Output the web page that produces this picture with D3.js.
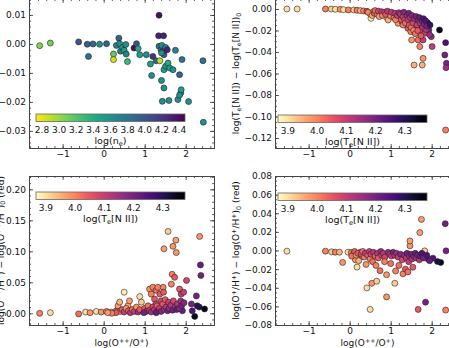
<!DOCTYPE html>
<html><head><meta charset="utf-8">
<script src="https://cdn.jsdelivr.net/npm/d3@7"></script>
<style>
body{margin:0;background:#fff}
svg{display:block;font-family:"DejaVu Sans",sans-serif}
</style></head><body>
<svg id="chart" width="449" height="348"></svg>
<script>
// tick labels
var xTicks = [-1, 0, 1, 2];
var neTicks = [2.8, 3.0, 3.2, 3.4, 3.6, 3.8, 4.0, 4.2, 4.4];
var teTicks = [3.9, 4.0, 4.1, 4.2, 4.3];
var yTicksNe = [-0.03, -0.02, -0.01, 0.00, 0.01];
var yTicksTe = [-0.12, -0.10, -0.08, -0.06, -0.04, -0.02, 0.00];
var yTicksO2 = [0.00, 0.05, 0.10, 0.15, 0.20];
var yTicksOp = [-0.08, -0.06, -0.04, -0.02, 0.00, 0.02, 0.04, 0.06, 0.08];

// points: [log(O++/O+), delta, colour value]
var nePts = [
  [-1.56,-0.0006,3.05],[-1.30,0.0003,3.1],[-0.61,0.0007,4.0],[-0.40,-0.0001,3.95],[-0.26,0.0,3.9],
  [-0.37,-0.0043,3.8],[-0.10,-0.0001,3.6],[0.07,0.0001,3.9],[0.24,-0.0035,3.15],[0.24,-0.0054,2.85],
  [0.31,-0.0005,3.7],[0.37,0.0020,3.95],[0.39,0.0001,3.6],[0.41,-0.0025,3.75],[0.46,-0.0012,3.6],
  [0.50,-0.0022,3.5],[0.54,-0.0002,3.6],[0.55,-0.0035,3.7],[0.58,-0.0061,3.3],[0.74,-0.0014,4.4],
  [0.80,0.0001,4.0],[0.84,-0.0016,3.4],[0.88,-0.0037,3.5],[1.04,-0.0037,3.6],[1.14,-0.0069,3.5],
  [1.17,-0.0109,3.6],[1.20,-0.0043,4.2],[1.28,-0.0058,3.9],[1.35,0.0099,4.4],[1.34,0.0028,4.3],
  [1.46,0.0028,4.3],[1.35,-0.0008,3.8],[1.40,-0.0020,3.9],[1.37,-0.0058,2.9],[1.41,-0.0126,3.6],
  [1.42,-0.0005,3.6],[1.45,-0.0025,4.0],[1.47,-0.0037,3.9],[1.49,-0.0022,4.1],[1.51,-0.0012,3.7],
  [1.55,-0.0020,4.3],[1.47,-0.0152,3.6],[1.43,-0.0198,3.6],[1.47,-0.0089,3.5],[1.51,-0.0077,3.6],
  [1.57,-0.0066,3.4],[1.61,-0.0083,3.5],[1.69,-0.0089,3.6],[1.59,-0.0195,3.6],[1.75,-0.0022,3.7],
  [1.81,-0.0192,3.6],[1.85,-0.0106,3.9],[1.88,-0.0169,3.6],[1.85,-0.0177,3.6],[1.89,-0.0158,3.5],
  [1.91,-0.0054,3.8],[2.07,-0.0199,3.6],[2.42,-0.0058,3.8],[2.43,-0.0270,3.6],[1.41,-0.0031,3.6]
];

var tePts = [
  [-1.53,0,3.90],[-1.28,0,3.90],[-0.59,0,4.00],[-0.45,0,3.92],[-0.35,-0.0003,3.90],[-0.23,-0.0003,3.98],
  [-0.15,-0.0006,3.90],[-0.03,-0.0009,4.00],[0.10,-0.0009,3.92],[0.18,-0.0012,4.00],[0.26,-0.0015,3.95],
  [0.34,-0.0018,4.00],[0.42,-0.0022,4.05],[0.50,-0.0046,3.90],[0.52,-0.0087,3.88],[0.58,-0.0025,4.00],
  [0.66,-0.0028,4.05],[0.74,-0.0034,4.02],[0.82,-0.0040,4.05],[0.90,-0.0078,3.92],[0.94,-0.0102,3.95],
  [0.98,-0.0034,4.05],[1.06,-0.0046,4.10],[1.14,-0.0056,4.08],[1.18,-0.0133,3.98],[1.22,-0.0087,4.05],
  [1.28,-0.0118,4.10],[1.30,-0.0149,4.00],[1.35,-0.0047,4.20],[1.38,-0.0071,4.12],[1.42,-0.0180,4.05],
  [1.47,-0.0133,4.08],[1.49,-0.0211,4.00],[1.51,-0.0288,3.98],[1.55,-0.0102,4.15],[1.59,-0.0164,4.10],
  [1.63,-0.0118,4.12],[1.67,-0.0288,4.02],[1.71,-0.0195,4.05],[1.71,-0.0350,4.00],[1.75,-0.0149,4.15],
  [1.79,-0.0288,4.10],[1.79,-0.0459,3.98],[1.77,-0.0521,3.95],[1.57,-0.0521,3.95],[1.83,-0.0226,4.10],
  [1.90,-0.0127,4.32],[1.93,-0.0195,4.20],[1.99,-0.0257,4.15],[2.01,-0.0350,4.10],[2.19,-0.0195,4.35],
  [2.34,-0.0313,4.25],[2.32,-0.0428,4.20],[2.36,-0.0505,4.20],[2.35,-0.0546,4.15],[2.34,-0.1126,4.00],
  [0.45,-0.0030,4.00],[0.55,-0.0060,3.95],[0.60,-0.0040,4.05],[0.62,-0.0015,4.02],[0.68,-0.0050,4.00],
  [0.70,-0.0020,4.08],[0.72,-0.0070,3.97],[0.78,-0.0025,4.10],[0.80,-0.0060,4.00],[0.85,-0.0030,4.08],
  [0.88,-0.0050,4.05],[0.92,-0.0020,4.12],[1.00,-0.0065,4.00],[1.02,-0.0030,4.10],[1.08,-0.0080,4.02],
  [1.10,-0.0040,4.12],[1.12,-0.0100,4.00],[1.16,-0.0060,4.10],[1.20,-0.0035,4.15],[1.24,-0.0050,4.12],
  [1.26,-0.0100,4.05],[1.30,-0.0070,4.10],[1.32,-0.0030,4.18],[1.34,-0.0100,4.08],[1.36,-0.0130,4.02],
  [1.40,-0.0060,4.15],[1.42,-0.0100,4.10],[1.44,-0.0040,4.20],[1.45,-0.0150,4.05],[1.48,-0.0080,4.12],
  [1.50,-0.0170,4.02],[1.52,-0.0060,4.18],[1.54,-0.0130,4.08],[1.56,-0.0200,4.00],[1.58,-0.0090,4.15],
  [1.60,-0.0230,4.02],[1.62,-0.0070,4.20],[1.64,-0.0150,4.10],[1.66,-0.0200,4.05],[1.68,-0.0100,4.15],
  [1.70,-0.0080,4.22],[1.72,-0.0130,4.12],[1.74,-0.0250,4.05],[1.76,-0.0110,4.20],[1.78,-0.0170,4.12],
  [1.80,-0.0090,4.25],[1.82,-0.0140,4.18],[1.85,-0.0110,4.25],[1.86,-0.0190,4.12],[1.88,-0.0160,4.20],
  [1.95,-0.0240,4.15],[1.96,-0.0150,4.28]
];

var o2Pts = [
  [-1.56,0.000,4.00],[-1.30,0.001,3.90],[-0.61,-0.001,4.02],[-0.44,0.002,3.90],[-0.33,0.001,3.98],
  [-0.18,0.003,3.90],[-0.06,0.002,3.98],[0.07,0.003,4.00],[0.19,0.002,3.95],[0.31,0.004,4.02],
  [0.35,0.012,3.97],[0.39,0.018,3.95],[0.50,0.034,3.88],[0.59,0.012,3.95],[0.63,0.020,3.97],
  [0.88,0.027,3.90],[0.92,0.018,3.92],[0.96,0.004,4.05],[1.12,0.039,3.98],[1.16,0.031,4.00],
  [1.20,0.042,4.00],[1.24,0.023,4.05],[1.27,0.015,4.08],[1.28,0.037,4.02],[1.32,0.042,4.00],
  [1.37,0.031,4.05],[1.40,0.020,4.08],[1.45,0.042,4.00],[1.46,0.034,4.05],[1.47,0.104,3.97],
  [1.57,0.132,3.92],[1.67,0.063,4.00],[1.69,0.108,3.98],[1.76,0.118,3.97],[1.77,0.098,3.98],
  [1.65,0.047,4.00],[1.73,0.058,4.05],[1.85,0.039,4.05],[1.89,0.031,4.10],[2.02,0.053,4.08],
  [1.95,0.034,4.10],[1.92,0.004,4.22],[2.14,0.015,4.20],[2.16,0.004,4.25],[2.26,0.028,4.20],
  [2.28,0.012,4.30],[2.22,-0.005,4.35],[2.34,0.124,3.98],[2.36,0.078,4.22],[2.37,0.061,4.20],
  [2.33,0.010,4.30],[2.46,0.007,4.35],
  [0.40,0.003,4.00],[0.45,0.006,4.05],[0.50,0.002,4.10],[0.55,0.008,3.98],[0.60,0.004,4.05],
  [0.65,0.001,4.12],[0.70,0.006,4.02],[0.75,0.003,4.10],[0.80,0.010,3.98],[0.84,0.002,4.15],
  [0.88,0.006,4.05],[1.00,0.008,4.05],[1.04,0.003,4.12],[1.08,0.012,4.02],[1.12,0.005,4.10],
  [1.16,0.002,4.15],[1.20,0.010,4.08],[1.24,0.006,4.12],[1.30,0.012,4.05],[1.32,0.004,4.15],
  [1.36,0.008,4.10],[1.40,0.003,4.18],[1.44,0.015,4.05],[1.48,0.006,4.15],[1.50,0.022,4.05],
  [1.52,0.010,4.12],[1.56,0.004,4.20],[1.58,0.018,4.10],[1.60,0.008,4.15],[1.64,0.013,4.12],
  [1.68,0.005,4.20],[1.70,0.020,4.08],[1.74,0.010,4.15],[1.78,0.006,4.22],[1.80,0.015,4.12],
  [1.84,0.008,4.18],[1.88,0.020,4.15],[1.90,0.012,4.20],[1.96,0.017,4.18],[0.98,0.001,4.20],
  [1.28,0.001,4.22],[0.30,0.001,4.05],[0.20,0.000,4.00],[0.10,0.001,3.97]
];

var opPts = [
  [-1.53,-0.0007,3.90],[-0.59,-0.0007,4.00],[-0.44,-0.0014,3.92],[-0.35,-0.0018,4.00],[-0.25,-0.0018,3.95],
  [-0.17,-0.0128,3.98],[-0.04,-0.0018,3.90],[0.04,-0.0021,4.00],[0.10,-0.0028,4.02],[0.14,-0.0100,3.98],
  [0.18,-0.0178,3.90],[0.26,-0.0018,4.05],[0.30,-0.0064,4.00],[0.42,-0.0402,3.90],[0.54,-0.0352,3.98],
  [0.66,-0.0330,3.92],[0.50,-0.0633,3.90],[0.90,-0.0498,3.98],[0.90,-0.0260,3.98],[1.10,-0.0352,3.92],
  [0.74,-0.0217,4.02],[1.47,0.0050,3.98],[1.47,0.0103,3.97],[1.71,0.0192,3.97],[1.75,0.0334,3.97],
  [1.83,-0.0004,3.92],[1.67,-0.0633,4.05],[1.85,-0.0555,4.20],[2.33,0.0288,4.20],[2.34,-0.0640,4.00],
  [2.35,-0.0004,4.20],[2.22,-0.0128,4.35],[2.14,-0.0118,4.32],[2.03,-0.0082,4.25],[1.91,-0.0092,4.22],
  [0.05,-0.0060,4.02],[0.12,-0.0010,4.05],[0.16,-0.0050,3.98],[0.20,-0.0030,4.05],[0.22,-0.0110,3.95],
  [0.28,-0.0040,4.08],[0.32,-0.0010,4.02],[0.36,-0.0070,4.00],[0.38,-0.0030,4.10],[0.40,-0.0150,3.98],
  [0.44,-0.0050,4.05],[0.48,-0.0010,4.10],[0.50,-0.0090,4.00],[0.52,-0.0040,4.08],[0.56,-0.0120,4.02],
  [0.58,-0.0020,4.12],[0.62,-0.0060,4.05],[0.64,-0.0160,4.00],[0.68,-0.0030,4.12],[0.70,-0.0080,4.05],
  [0.76,-0.0010,4.15],[0.78,-0.0050,4.10],[0.82,-0.0030,4.12],[0.86,-0.0070,4.08],[0.94,-0.0020,4.15],
  [0.98,-0.0040,4.12],[1.02,-0.0060,4.10],[1.06,-0.0020,4.18],[1.10,-0.0050,4.12],[1.14,-0.0030,4.15],
  [1.18,-0.0070,4.10],[1.20,-0.0160,4.02],[1.24,-0.0040,4.18],[1.28,-0.0100,4.08],[1.30,-0.0250,4.00],
  [1.34,-0.0050,4.15],[1.36,-0.0200,4.05],[1.38,-0.0080,4.12],[1.40,-0.0030,4.20],[1.42,-0.0230,4.02],
  [1.44,-0.0120,4.10],[1.46,-0.0060,4.15],[1.50,-0.0040,4.20],[1.52,-0.0090,4.12],[1.54,-0.0180,4.05],
  [1.56,-0.0060,4.18],[1.60,-0.0030,4.22],[1.62,-0.0080,4.15],[1.66,-0.0050,4.20],[1.70,-0.0100,4.12],
  [1.72,-0.0060,4.22],[1.76,-0.0030,4.25],[1.80,-0.0080,4.20],[1.88,-0.0050,4.25],[1.95,-0.0110,4.22],
  [0.85,-0.0120,4.00],[1.00,-0.0140,4.02],[1.12,-0.0220,4.00]
];

var svg = d3.select("#chart");
svg.append("rect").attr("width", 449).attr("height", 348).attr("fill", "#fff");
var defs = svg.append("defs");

var W = 185;
var xDomain = [-1.82, 2.69];

var teLabel = [["log(T",""],["e","sub"],["[N II])",""]];
var panels = [
  { id: "ne", pts: nePts, left: 29, top: -1, bottom: 148, ydom: [-0.0359, 0.0155], yticks: yTicksNe, ystep: 0.002,
    cmap: d3.interpolateViridis, cdom: [2.73, 4.47], cticks: neTicks, cfmt: d3.format(".1f"),
    bar: [36, 114], clabel: [["log(n",""],["e","sub"],[")",""]], ylabel: null, ylx: 0, xlabel: false },
  { id: "te", pts: tePts, left: 275, top: -1, bottom: 148, ydom: [-0.1293, 0.0093], yticks: yTicksTe, ystep: 0.005,
    cmap: d3.interpolateMagma, cdom: [3.866, 4.376], cticks: teTicks, cfmt: d3.format(".1f"),
    bar: [278, 115], clabel: teLabel,
    ylabel: [["log(T",""],["e","sub"],["[N II]) \u2212 log(T",""],["e","sub"],["[N II])",""],["0","sub"]], ylx: 239, xlabel: false },
  { id: "o2", pts: o2Pts, left: 29, top: 176, bottom: 325, ydom: [-0.0189, 0.2215], yticks: yTicksO2, ystep: 0.01,
    cmap: d3.interpolateMagma, cdom: [3.866, 4.376], cticks: teTicks, cfmt: d3.format(".1f"),
    bar: [36, 192], clabel: teLabel,
    ylabel: [["log(O",""],["++","sup"],["/H",""],["+","sup"],[") \u2212 log(O",""],["++","sup"],["/H",""],["+","sup"],[")",""],["0","sub"],[" (red)",""]], ylx: 3.5, xlabel: true },
  { id: "op", pts: opPts, left: 275, top: 176, bottom: 325, ydom: [-0.08, 0.08], yticks: yTicksOp, ystep: 0.005,
    cmap: d3.interpolateMagma, cdom: [3.866, 4.376], cticks: teTicks, cfmt: d3.format(".1f"),
    bar: [278, 193], clabel: teLabel,
    ylabel: [["log(O",""],["+","sup"],["/H",""],["+","sup"],[") \u2212 log(O",""],["+","sup"],["/H",""],["+","sup"],[")",""],["0","sub"],[" (red)",""]], ylx: 239, xlabel: true }
];

// write label parts with raised / lowered pieces
function rich(sel, parts, size) {
  var shift = 0;
  parts.forEach(function(p) {
    var target = p[1] == "sup" ? -0.38 * size : (p[1] == "sub" ? 0.22 * size : 0);
    var t = sel.append("tspan").text(p[0]).attr("dy", target - shift);
    if (p[1]) t.attr("font-size", size * 0.7);
    shift = target;
  });
}

function styleAxis(g) {
  g.attr("font-size", null).attr("font-family", null);
  g.select(".domain").remove();
  g.selectAll("line").attr("stroke", "#333").attr("stroke-width", 0.8);
  g.selectAll("text").attr("fill", "#111").attr("font-size", 9);
}

panels.forEach(function(p) {
  var h = p.bottom - p.top;
  var x = d3.scaleLinear().domain(xDomain).range([0, W]);
  var y = d3.scaleLinear().domain(p.ydom).range([h, 0]);
  var color = d3.scaleLinear().domain(p.cdom).range([1, 0]).clamp(true);

  var g = svg.append("g").attr("transform", "translate(" + p.left + "," + p.top + ")");

  defs.append("clipPath").attr("id", "clip-" + p.id)
    .append("rect").attr("width", W).attr("height", h);

  g.append("g").attr("clip-path", "url(#clip-" + p.id + ")")
    .selectAll("circle").data(p.pts).enter().append("circle")
    .attr("cx", function(d) { return x(d[0]); })
    .attr("cy", function(d) { return y(d[1]); })
    .attr("r", 3)
    .attr("fill", function(d) { return p.cmap(color(d[2])); })
    .attr("stroke", "#222")
    .attr("stroke-width", 0.6);

  var xMinor = d3.range(-9, 14).map(function(i) { return i * 0.2; })
    .filter(function(v) { return v >= xDomain[0] && v <= xDomain[1]; });
  var yMinor = d3.range(Math.ceil(p.ydom[0] / p.ystep), Math.floor(p.ydom[1] / p.ystep) + 1)
    .map(function(i) { return i * p.ystep; });

  // major + minor ticks on all four sides, pointing in
  g.append("g").attr("transform", "translate(0," + h + ")")
    .call(d3.axisBottom(x).tickValues(xMinor).tickSize(-2).tickFormat(function() { return ""; })).call(styleAxis);
  g.append("g").attr("transform", "translate(0," + h + ")")
    .call(d3.axisBottom(x).tickValues(xTicks).tickSize(-4).tickPadding(3).tickFormat(d3.format("d"))).call(styleAxis);
  g.append("g")
    .call(d3.axisTop(x).tickValues(xMinor).tickSize(-2).tickFormat(function() { return ""; })).call(styleAxis);
  g.append("g")
    .call(d3.axisTop(x).tickValues(xTicks).tickSize(-4).tickFormat(function() { return ""; })).call(styleAxis);
  g.append("g")
    .call(d3.axisLeft(y).tickValues(yMinor).tickSize(-2).tickFormat(function() { return ""; })).call(styleAxis);
  g.append("g")
    .call(d3.axisLeft(y).tickValues(p.yticks).tickSize(-4).tickPadding(3).tickFormat(d3.format(".2f"))).call(styleAxis);
  g.append("g").attr("transform", "translate(" + W + ",0)")
    .call(d3.axisRight(y).tickValues(yMinor).tickSize(-2).tickFormat(function() { return ""; })).call(styleAxis);
  g.append("g").attr("transform", "translate(" + W + ",0)")
    .call(d3.axisRight(y).tickValues(p.yticks).tickSize(-4).tickFormat(function() { return ""; })).call(styleAxis);

  g.append("rect").attr("x", 0.5).attr("y", 0.5).attr("width", W).attr("height", h)
    .attr("fill", "none").attr("stroke", "#444").attr("stroke-width", 1);

  // colour bar inset
  var grad = defs.append("linearGradient").attr("id", "grad-" + p.id);
  d3.range(0, 21).forEach(function(i) {
    grad.append("stop").attr("offset", (i * 5) + "%").attr("stop-color", p.cmap(1 - i / 20));
  });
  var cbW = 149, cbH = 7.5;
  var cx = d3.scaleLinear().domain(p.cdom).range([p.bar[0], p.bar[0] + cbW]);
  svg.append("rect").attr("x", p.bar[0]).attr("y", p.bar[1]).attr("width", cbW).attr("height", cbH)
    .attr("fill", "url(#grad-" + p.id + ")").attr("stroke", "#666").attr("stroke-width", 0.8);
  svg.append("g").selectAll("text").data(p.cticks).enter().append("text")
    .attr("x", function(d) { return cx(d); })
    .attr("y", p.bar[1] + cbH + 11)
    .attr("text-anchor", "middle").attr("font-size", 9).attr("fill", "#111")
    .text(p.cfmt);
  var cl = svg.append("text")
    .attr("x", p.bar[0] + cbW / 2).attr("y", p.bar[1] + cbH + 22)
    .attr("text-anchor", "middle").attr("font-size", 9.5).attr("fill", "#111");
  rich(cl, p.clabel, 9.5);

  if (p.xlabel) {
    var xl = svg.append("text")
      .attr("x", p.left + W / 2).attr("y", 346)
      .attr("text-anchor", "middle").attr("font-size", 9).attr("fill", "#111");
    rich(xl, [["log(O",""],["++","sup"],["/O",""],["+","sup"],[")",""]], 9);
  }
  if (p.ylabel) {
    var yl = svg.append("text")
      .attr("transform", "translate(" + p.ylx + "," + (p.top + h / 2) + ") rotate(-90)")
      .attr("text-anchor", "middle").attr("font-size", 9).attr("fill", "#111");
    rich(yl, p.ylabel, 9);
  }
});
</script>
</body></html>
